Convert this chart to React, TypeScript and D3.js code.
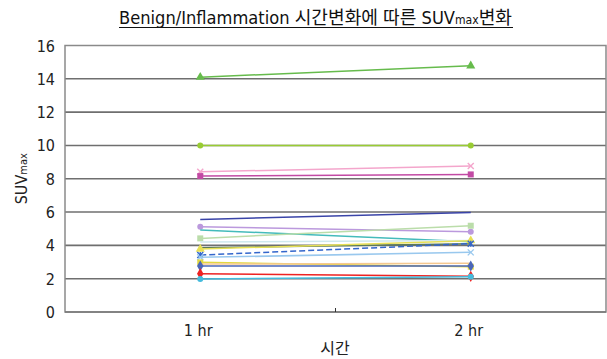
import React from "react";
import * as d3 from "d3";

const categories = ["1 hr", "2 hr"];
const yTicks = [0, 2, 4, 6, 8, 10, 12, 14, 16];

const seriesNames = [
  "s1", "s2", "s3", "s4", "s5", "s6", "s7", "s8", "s9", "s10",
  "s11", "s12", "s13", "s14", "s15", "s16", "s17", "s18",
];
const seriesColors = [
  "#66bb4c", "#99cc33", "#f4a6cc", "#c24aa4", "#3a44a8", "#bb99dd",
  "#44bbbb", "#bbddaa", "#cfe8ee", "#5a7a5a", "#e8e055", "#3366cc",
  "#99c8ee", "#e2d840", "#f5c890", "#4a66b8", "#ee2222", "#44bbdd",
];
const seriesMarkers = [
  "triangle", "circle", "x", "square", "none", "circle",
  "none", "square", "none", "none", "triangle", "star",
  "x", "square", "none", "diamond", "diamond", "circle",
];
const values1hr = [
  14.1, 10.0, 8.42, 8.16, 5.56, 5.12, 4.92, 4.42, 4.2, 3.85, 3.78, 3.42,
  3.28, 2.98, 2.88, 2.76, 2.3, 1.98,
];
const values2hr = [
  14.78, 10.0, 8.76, 8.26, 5.98, 4.82, 4.22, 5.18, 4.3, 4.1, 4.28, 4.1,
  3.58, 2.72, 2.92, 2.76, 2.14, 2.12,
];

const W = 607;
const H = 359;
const left = 65;
const right = 606;
const top = 45.5;
const bottom = 312;

const x = d3.scaleBand<string>().domain(categories).range([left, right]);
const y = d3.scaleLinear().domain([0, 16]).range([bottom, top]);
const cx = (c: string) => (x(c) as number) + x.bandwidth() / 2;

function Marker({ kind, px, py, color }: { kind: string; px: number; py: number; color: string }) {
  const s = 3;
  if (kind === "circle") return <circle cx={px} cy={py} r={s} fill={color} />;
  if (kind === "square") return <rect x={px - s} y={py - s} width={2 * s} height={2 * s} fill={color} />;
  if (kind === "triangle") {
    const p = d3.symbol(d3.symbolTriangle, 36)();
    return <path d={p as string} transform={`translate(${px},${py})`} fill={color} />;
  }
  if (kind === "diamond") {
    const p = d3.symbol(d3.symbolDiamond, 36)();
    return <path d={p as string} transform={`translate(${px},${py})`} fill={color} />;
  }
  if (kind === "x") {
    return (
      <g stroke={color} strokeWidth={1.4}>
        <line x1={px - s} y1={py - s} x2={px + s} y2={py + s} />
        <line x1={px - s} y1={py + s} x2={px + s} y2={py - s} />
      </g>
    );
  }
  if (kind === "star") {
    return (
      <g stroke={color} strokeWidth={1.4}>
        <line x1={px - s} y1={py - s} x2={px + s} y2={py + s} />
        <line x1={px - s} y1={py + s} x2={px + s} y2={py - s} />
        <line x1={px} y1={py - s} x2={px} y2={py + s} />
      </g>
    );
  }
  return null;
}

export default function App() {
  const fontNum = "'DejaVu Sans Condensed', 'Noto Sans CJK KR', sans-serif";
  const line = d3
    .line<[string, number]>()
    .x((d) => cx(d[0]))
    .y((d) => y(d[1]));

  return (
    <svg width={W} height={H} style={{ position: "absolute", left: 0, top: 0 }}>
      <rect x={0} y={0} width={W} height={H} fill="#fff" />
      {/* title */}
      <text
        x={119}
        y={24}
        fontSize={18}
        fontFamily={fontNum}
        fill="#111"
        textLength={393}
        lengthAdjust="spacingAndGlyphs"
      >
        Benign/Inflammation 시간변화에 따른 SUV
        <tspan fontSize={12}>max</tspan>변화
      </text>
      <line x1={119} x2={513} y1={27.5} y2={27.5} stroke="#111" strokeWidth={1.2} />

      {/* gridlines */}
      {yTicks.map((t) => (
        <g key={t}>
          {t > 0 && t < 16 && (
            <line x1={left} x2={right} y1={y(t)} y2={y(t)} stroke="#6f6f6f" strokeWidth={1.6} />
          )}
          <text
            x={55}
            y={y(t) + 6}
            textAnchor="end"
            fontSize={16}
            fontFamily={fontNum}
            fill="#222"
          >
            {t}
          </text>
        </g>
      ))}

      {/* series */}
      {seriesNames.map((n, i) => {
        const pts: [string, number][] = [
          [categories[0], values1hr[i]],
          [categories[1], values2hr[i]],
        ];
        return (
          <g key={n}>
            <path
              d={line(pts) as string}
              fill="none"
              stroke={seriesColors[i]}
              strokeWidth={1.5}
              strokeDasharray={seriesMarkers[i] === "star" ? "6,3" : undefined}
            />
            {pts.map((p, j) => (
              <Marker key={j} kind={seriesMarkers[i]} px={cx(p[0])} py={y(p[1])} color={seriesColors[i]} />
            ))}
          </g>
        );
      })}

      {/* frame */}
      <rect x={left} y={top} width={right - left} height={bottom - top} fill="none" stroke="#8a8a8a" strokeWidth={1.5} />
      <line x1={left} x2={right} y1={bottom} y2={bottom} stroke="#777" strokeWidth={1.6} />
      <line x1={x(categories[1]) as number} x2={x(categories[1]) as number} y1={bottom} y2={bottom - 4} stroke="#333" strokeWidth={1} />

      {/* x labels */}
      {categories.map((c) => (
        <text key={c} x={cx(c) - 2} y={336} textAnchor="middle" fontSize={16} fontFamily={fontNum} fill="#222">
          {c}
        </text>
      ))}
      <text x={335} y={354} textAnchor="middle" fontSize={16} fontFamily={fontNum} fill="#222">
        시간
      </text>
      <text
        transform={`translate(27,${(top + bottom) / 2}) rotate(-90)`}
        textAnchor="middle"
        fontSize={16}
        fontFamily={fontNum}
        fill="#222"
      >
        SUV<tspan fontSize={11}>max</tspan>
      </text>
    </svg>
  );
}
